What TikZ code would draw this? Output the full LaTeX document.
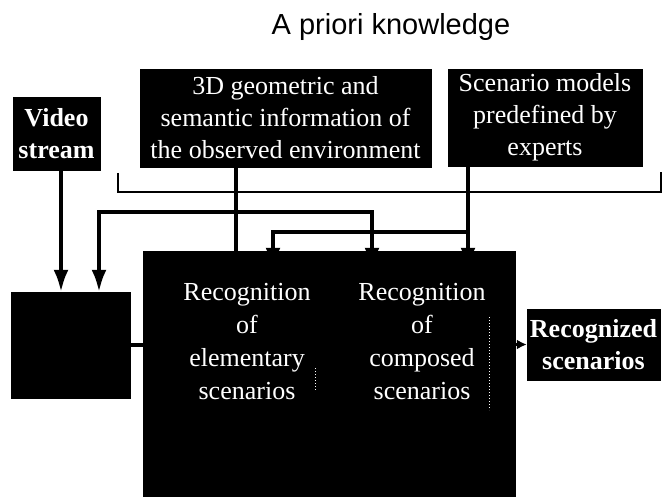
\documentclass[tikz,border=0pt]{standalone}
\usepackage{fontspec}
\setmainfont{Liberation Serif}
\newfontfamily\headfont{Liberation Sans}
\usetikzlibrary{arrows.meta}

\begin{document}
\begin{tikzpicture}[x=1pt,y=-1pt,
		blk/.style={draw=black, fill=black, text=white, inner sep=0pt, align=center, font=\fontsize{26}{32}\selectfont},
		txt/.style={text=white, inner sep=0pt, align=center, font=\fontsize{26}{33}\selectfont},
		wire/.style={line width=3.5pt},
		arr/.style={wire, -{Latex[length=22pt,width=15pt]}},
		sunk/.style={shorten >=-19pt}]
				\useasboundingbox (0,0) rectangle (669,497);
				
				\node[font=\headfont\fontsize{29}{34}\selectfont] (head) at (391,27) {A priori knowledge};
				
				\node[blk, minimum width=291pt, minimum height=98pt] (k3d) at (285.5,118) {3D geometric and\\semantic information of\\the observed environment};
				\node[blk, minimum width=194pt, minimum height=97pt] (models) at (545,117.5) {Scenario models\\predefined by\\experts};
				\draw[line width=2.5pt] (118,173) -- (118,192) -- (661,192) -- (661,172);
				
				\node[blk, font=\fontsize{26}{32}\selectfont\bfseries, minimum width=87pt, minimum height=73pt] (video) at (56.5,133.5) {Video\\stream};
				\node[blk, minimum width=119pt, minimum height=106pt] (vis) at (70.5,345) {};
				\node[blk, minimum width=372pt, minimum height=246pt] (reco) at (329,374) {};
				\node[blk, font=\fontsize{26}{32}\selectfont\bfseries, minimum width=133pt, minimum height=71pt] (recog) at (593.5,344.5) {Recognized\\scenarios};
				
				\node[txt] (elem) at (247,342) {Recognition\\of\\elementary\\scenarios};
				\node[txt] (comp) at (422,342) {Recognition\\of\\composed\\scenarios};
				\draw[white, dotted, line width=1pt] (315,368) -- (315,390);
				\draw[white, dotted, line width=1pt] (489,317) -- (489,410);
				
				\coordinate (j3d) at (236,212);
				\coordinate (jm) at (468,232);
				\draw[arr] ([xshift=4.5pt]video.south) -- ([xshift=-9.5pt]vis.north);
				\draw[arr, shorten >=-24pt] (k3d.south -| j3d) -- ([xshift=-93pt]reco.north);
				\draw[arr] (j3d) -| ([xshift=28.5pt]vis.north);
				\draw[arr, sunk] (j3d) -| ([xshift=43pt]reco.north);
				\draw[arr, sunk] (models.south -| jm) -- ([xshift=139pt]reco.north);
				\draw[arr, sunk] (jm) -| ([xshift=-56pt]reco.north);
				\draw[wire] (vis.east) -- (reco.west |- vis.east);
				\draw[wire, -{Latex[length=10pt,width=10pt]}] (reco.east |- recog.west) -- (recog.west);
			\end{tikzpicture}
\end{document}
